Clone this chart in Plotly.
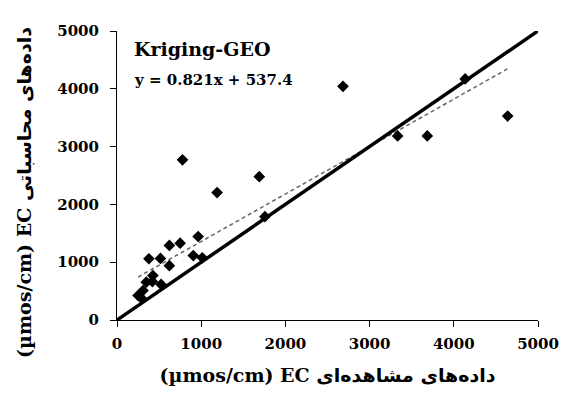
import plotly.graph_objects as go

# Observed vs calculated EC (µmos/cm)
observed = [250, 290, 309, 348, 420, 426, 524, 379, 516, 622, 622, 750, 906, 1013, 964,
            778, 1189, 1690, 1757, 2684, 3333, 3685, 4640, 4135]
calculated = [424, 378, 510, 655, 665, 768, 615, 1060, 1065, 940, 1290, 1330, 1115, 1077, 1445,
              2772, 2205, 2480, 1787, 4043, 3184, 3184, 3528, 4170]

slope = 0.821
intercept = 537.4
one_to_one = [0, 5000]
ticks = [0, 1000, 2000, 3000, 4000, 5000]

x_title = "(µmos/cm) EC داده‌های مشاهده‌ای"
y_title = "(µmos/cm) EC داده‌های محاسباتی"
model_name = "Kriging-GEO"
equation = "y = 0.821x + 537.4"

fx = [min(observed), max(observed)]
fy = [slope * v + intercept for v in fx]

font_family = "DejaVu Serif, Liberation Serif, DejaVu Sans, serif"

fig = go.Figure()
fig.add_trace(go.Scatter(x=fx, y=fy, mode="lines",
                         line=dict(color="#666666", width=1.5, dash="4px,3px"),
                         showlegend=False, hoverinfo="skip"))
fig.add_trace(go.Scatter(x=observed, y=calculated, mode="markers",
                         marker=dict(symbol="diamond", size=9, color="black"),
                         showlegend=False))
fig.add_trace(go.Scatter(x=one_to_one, y=one_to_one, mode="lines",
                         line=dict(color="black", width=3.5),
                         showlegend=False, hoverinfo="skip"))

fig.add_annotation(x=176, y=4691, xref="x", yref="y", text="<b>" + model_name + "</b>",
                   showarrow=False, xanchor="left", yanchor="middle",
                   font=dict(family=font_family, size=19, color="black"))
fig.add_annotation(x=176, y=4158, xref="x", yref="y", text="<b>" + equation + "</b>",
                   showarrow=False, xanchor="left", yanchor="middle",
                   font=dict(family=font_family, size=15, color="black"))
# y-axis title (rotated)
fig.add_annotation(x=-0.221, y=0.443, xref="paper", yref="paper", text="<b>" + y_title + "</b>",
                   showarrow=False, xanchor="center", yanchor="middle", textangle=-90,
                   font=dict(family=font_family, size=19, color="black"))

axis_common = dict(range=[0, 5000], tickvals=ticks, ticktext=[str(t) for t in ticks],
                   showgrid=False, zeroline=False, showline=True, linecolor="black",
                   linewidth=1, ticks="outside", ticklen=6, tickcolor="black",
                   tickfont=dict(family=font_family, size=15, color="black", weight="bold"),
                   fixedrange=True)

fig.update_layout(
    width=571, height=394,
    margin=dict(l=117, r=28, t=31, b=72),
    paper_bgcolor="white", plot_bgcolor="white",
    xaxis=dict(**axis_common, ticklabelstandoff=4,
               title=dict(text="<b>" + x_title + "</b>", standoff=16,
                          font=dict(family=font_family, size=19, color="black"))),
    yaxis=dict(**axis_common, ticklabelstandoff=8),
)

fig.write_html("out.html", config={"displayModeBar": False})
